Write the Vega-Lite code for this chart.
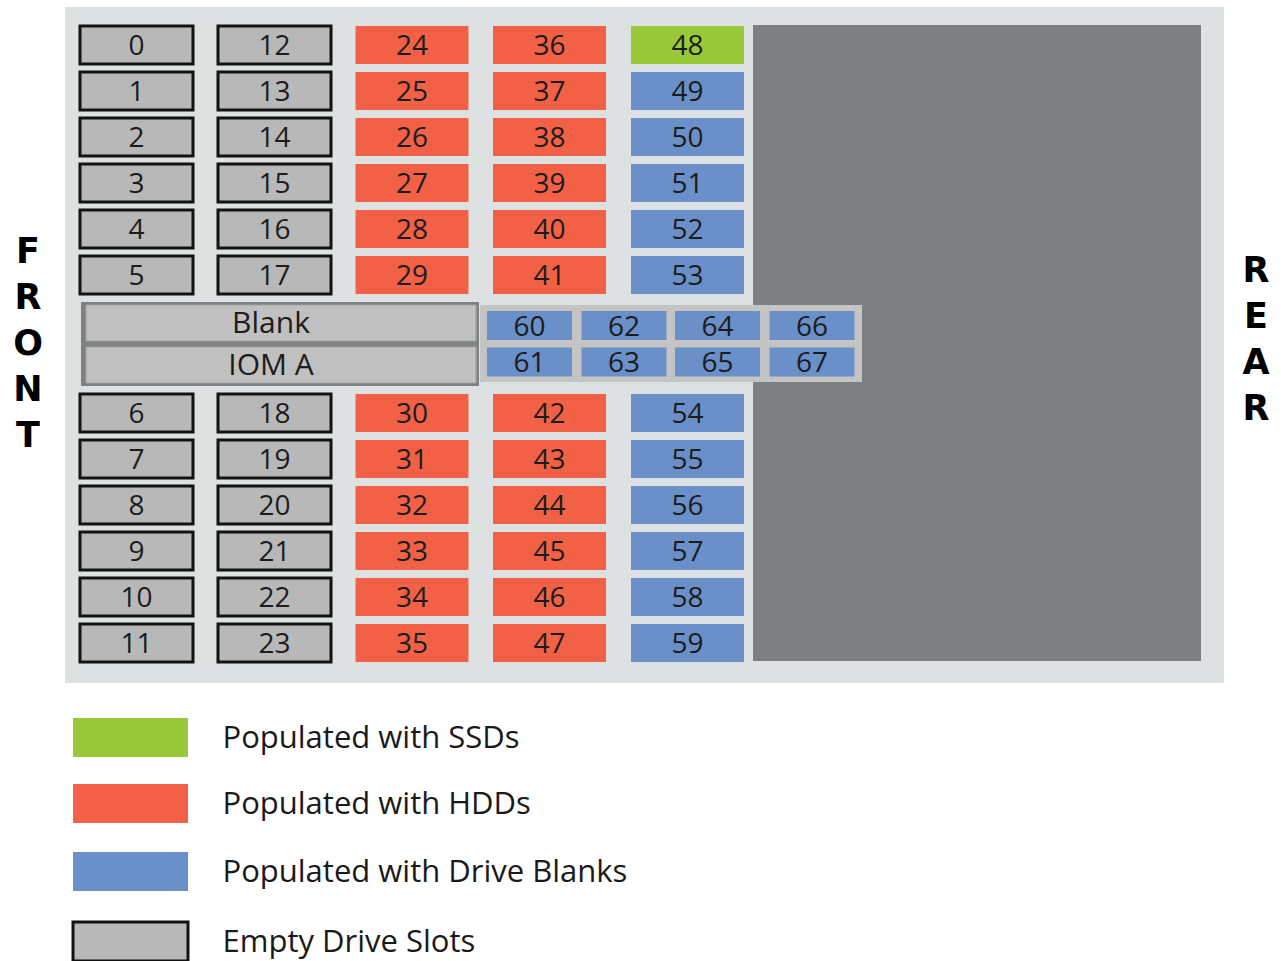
{
  "$schema": "https://vega.github.io/schema/vega-lite/v6.json",
  "width": 1281,
  "height": 961,
  "autosize": "none",
  "padding": 0,
  "background": "#ffffff",
  "config": {"view": {"stroke": null}},
  "datasets": {
    "panels": [
      {"part": "chassis", "x0": 65, "x1": 1224, "y0": 7, "y1": 683},
      {"part": "rear", "x0": 753, "x1": 1201, "y0": 25, "y1": 661},
      {"part": "iomframe", "x0": 81, "x1": 479, "y0": 302, "y1": 386},
      {"part": "midtray", "x0": 480, "x1": 862, "y0": 305, "y1": 382}
    ],
    "modules": [
      {"name": "Blank", "x": 281, "y": 323},
      {"name": "IOM A", "x": 281, "y": 365}
    ],
    "sides": [
      {"side": "FRONT", "letters": ["F", "R", "O", "N", "T"], "x": 28, "y": 252},
      {"side": "REAR", "letters": ["R", "E", "A", "R"], "x": 1256, "y": 271}
    ],
    "key": [
      {"kind": "Populated with SSDs", "x": 130.5, "y": 737.5},
      {"kind": "Populated with HDDs", "x": 130.5, "y": 803.5},
      {"kind": "Populated with Drive Blanks", "x": 130.5, "y": 871.5},
      {"kind": "Empty Drive Slots", "x": 130.5, "y": 941.5}
    ],
    "slots": [
      {"id": 0, "group": "bay", "kind": "Empty Drive Slots", "x": 136.5, "y": 45},
      {"id": 1, "group": "bay", "kind": "Empty Drive Slots", "x": 136.5, "y": 91},
      {"id": 2, "group": "bay", "kind": "Empty Drive Slots", "x": 136.5, "y": 137},
      {"id": 3, "group": "bay", "kind": "Empty Drive Slots", "x": 136.5, "y": 183},
      {"id": 4, "group": "bay", "kind": "Empty Drive Slots", "x": 136.5, "y": 229},
      {"id": 5, "group": "bay", "kind": "Empty Drive Slots", "x": 136.5, "y": 275},
      {"id": 6, "group": "bay", "kind": "Empty Drive Slots", "x": 136.5, "y": 413},
      {"id": 7, "group": "bay", "kind": "Empty Drive Slots", "x": 136.5, "y": 459},
      {"id": 8, "group": "bay", "kind": "Empty Drive Slots", "x": 136.5, "y": 505},
      {"id": 9, "group": "bay", "kind": "Empty Drive Slots", "x": 136.5, "y": 551},
      {"id": 10, "group": "bay", "kind": "Empty Drive Slots", "x": 136.5, "y": 597},
      {"id": 11, "group": "bay", "kind": "Empty Drive Slots", "x": 136.5, "y": 643},
      {"id": 12, "group": "bay", "kind": "Empty Drive Slots", "x": 274.5, "y": 45},
      {"id": 13, "group": "bay", "kind": "Empty Drive Slots", "x": 274.5, "y": 91},
      {"id": 14, "group": "bay", "kind": "Empty Drive Slots", "x": 274.5, "y": 137},
      {"id": 15, "group": "bay", "kind": "Empty Drive Slots", "x": 274.5, "y": 183},
      {"id": 16, "group": "bay", "kind": "Empty Drive Slots", "x": 274.5, "y": 229},
      {"id": 17, "group": "bay", "kind": "Empty Drive Slots", "x": 274.5, "y": 275},
      {"id": 18, "group": "bay", "kind": "Empty Drive Slots", "x": 274.5, "y": 413},
      {"id": 19, "group": "bay", "kind": "Empty Drive Slots", "x": 274.5, "y": 459},
      {"id": 20, "group": "bay", "kind": "Empty Drive Slots", "x": 274.5, "y": 505},
      {"id": 21, "group": "bay", "kind": "Empty Drive Slots", "x": 274.5, "y": 551},
      {"id": 22, "group": "bay", "kind": "Empty Drive Slots", "x": 274.5, "y": 597},
      {"id": 23, "group": "bay", "kind": "Empty Drive Slots", "x": 274.5, "y": 643},
      {"id": 24, "group": "bay", "kind": "Populated with HDDs", "x": 412, "y": 45},
      {"id": 25, "group": "bay", "kind": "Populated with HDDs", "x": 412, "y": 91},
      {"id": 26, "group": "bay", "kind": "Populated with HDDs", "x": 412, "y": 137},
      {"id": 27, "group": "bay", "kind": "Populated with HDDs", "x": 412, "y": 183},
      {"id": 28, "group": "bay", "kind": "Populated with HDDs", "x": 412, "y": 229},
      {"id": 29, "group": "bay", "kind": "Populated with HDDs", "x": 412, "y": 275},
      {"id": 30, "group": "bay", "kind": "Populated with HDDs", "x": 412, "y": 413},
      {"id": 31, "group": "bay", "kind": "Populated with HDDs", "x": 412, "y": 459},
      {"id": 32, "group": "bay", "kind": "Populated with HDDs", "x": 412, "y": 505},
      {"id": 33, "group": "bay", "kind": "Populated with HDDs", "x": 412, "y": 551},
      {"id": 34, "group": "bay", "kind": "Populated with HDDs", "x": 412, "y": 597},
      {"id": 35, "group": "bay", "kind": "Populated with HDDs", "x": 412, "y": 643},
      {"id": 36, "group": "bay", "kind": "Populated with HDDs", "x": 549.5, "y": 45},
      {"id": 37, "group": "bay", "kind": "Populated with HDDs", "x": 549.5, "y": 91},
      {"id": 38, "group": "bay", "kind": "Populated with HDDs", "x": 549.5, "y": 137},
      {"id": 39, "group": "bay", "kind": "Populated with HDDs", "x": 549.5, "y": 183},
      {"id": 40, "group": "bay", "kind": "Populated with HDDs", "x": 549.5, "y": 229},
      {"id": 41, "group": "bay", "kind": "Populated with HDDs", "x": 549.5, "y": 275},
      {"id": 42, "group": "bay", "kind": "Populated with HDDs", "x": 549.5, "y": 413},
      {"id": 43, "group": "bay", "kind": "Populated with HDDs", "x": 549.5, "y": 459},
      {"id": 44, "group": "bay", "kind": "Populated with HDDs", "x": 549.5, "y": 505},
      {"id": 45, "group": "bay", "kind": "Populated with HDDs", "x": 549.5, "y": 551},
      {"id": 46, "group": "bay", "kind": "Populated with HDDs", "x": 549.5, "y": 597},
      {"id": 47, "group": "bay", "kind": "Populated with HDDs", "x": 549.5, "y": 643},
      {"id": 48, "group": "bay", "kind": "Populated with SSDs", "x": 687.5, "y": 45},
      {"id": 49, "group": "bay", "kind": "Populated with Drive Blanks", "x": 687.5, "y": 91},
      {"id": 50, "group": "bay", "kind": "Populated with Drive Blanks", "x": 687.5, "y": 137},
      {"id": 51, "group": "bay", "kind": "Populated with Drive Blanks", "x": 687.5, "y": 183},
      {"id": 52, "group": "bay", "kind": "Populated with Drive Blanks", "x": 687.5, "y": 229},
      {"id": 53, "group": "bay", "kind": "Populated with Drive Blanks", "x": 687.5, "y": 275},
      {"id": 54, "group": "bay", "kind": "Populated with Drive Blanks", "x": 687.5, "y": 413},
      {"id": 55, "group": "bay", "kind": "Populated with Drive Blanks", "x": 687.5, "y": 459},
      {"id": 56, "group": "bay", "kind": "Populated with Drive Blanks", "x": 687.5, "y": 505},
      {"id": 57, "group": "bay", "kind": "Populated with Drive Blanks", "x": 687.5, "y": 551},
      {"id": 58, "group": "bay", "kind": "Populated with Drive Blanks", "x": 687.5, "y": 597},
      {"id": 59, "group": "bay", "kind": "Populated with Drive Blanks", "x": 687.5, "y": 643},
      {"id": 60, "group": "mid", "kind": "Populated with Drive Blanks", "x": 529.5, "y": 325.5},
      {"id": 61, "group": "mid", "kind": "Populated with Drive Blanks", "x": 529.5, "y": 362},
      {"id": 62, "group": "mid", "kind": "Populated with Drive Blanks", "x": 624, "y": 325.5},
      {"id": 63, "group": "mid", "kind": "Populated with Drive Blanks", "x": 624, "y": 362},
      {"id": 64, "group": "mid", "kind": "Populated with Drive Blanks", "x": 717.5, "y": 325.5},
      {"id": 65, "group": "mid", "kind": "Populated with Drive Blanks", "x": 717.5, "y": 362},
      {"id": 66, "group": "mid", "kind": "Populated with Drive Blanks", "x": 812, "y": 325.5},
      {"id": 67, "group": "mid", "kind": "Populated with Drive Blanks", "x": 812, "y": 362}
    ]
  },
  "encoding": {
    "x": {"type": "quantitative", "scale": {"domain": [0, 1281], "nice": false, "zero": false}, "axis": null},
    "y": {"type": "quantitative", "scale": {"domain": [0, 961], "reverse": true, "nice": false, "zero": false}, "axis": null}
  },
  "layer": [
    {
      "data": {"name": "panels"},
      "mark": {"type": "rect"},
      "encoding": {
        "x": {"field": "x0", "type": "quantitative"},
        "x2": {"field": "x1"},
        "y": {"field": "y0", "type": "quantitative"},
        "y2": {"field": "y1"},
        "fill": {"field": "part", "type": "nominal", "scale": {"domain": ["chassis", "rear", "iomframe", "midtray"], "range": ["#dde1e1", "#7c8080", "#7e8282", "#c4c4c4"]}, "legend": null}
      }
    },
    {
      "data": {"name": "modules"},
      "mark": {"type": "point", "shape": "M-1,-0.0923L1,-0.0923L1,0.0923L-1,0.0923Z", "size": 152100, "filled": true, "opacity": 1, "fill": "#c0c0c0", "stroke": "#a2a2a2", "strokeWidth": 1},
      "encoding": {
        "x": {"field": "x", "type": "quantitative"},
        "y": {"field": "y", "type": "quantitative"}
      }
    },
    {
      "data": {"name": "modules"},
      "mark": {"type": "text", "font": "Open Sans", "fontSize": 30, "color": "#1c1c1c", "align": "center", "baseline": "middle", "dx": -10, "dy": 1},
      "encoding": {
        "x": {"field": "x", "type": "quantitative"},
        "y": {"field": "y", "type": "quantitative"},
        "text": {"field": "name", "type": "nominal"}
      }
    },
    {
      "data": {"name": "slots"},
      "transform": [{"filter": "datum.group === 'bay'"}],
      "mark": {"type": "point", "shape": "M-1,-0.3363L1,-0.3363L1,0.3363L-1,0.3363Z", "size": 12769, "filled": true, "opacity": 1, "strokeWidth": 3},
      "encoding": {
        "x": {"field": "x", "type": "quantitative"},
        "y": {"field": "y", "type": "quantitative"},
        "color": {
          "field": "kind", "type": "nominal",
          "scale": {"domain": ["Populated with SSDs", "Populated with HDDs", "Populated with Drive Blanks", "Empty Drive Slots"], "range": ["#99c93b", "#f26046", "#6a8fc9", "#b8b8b8"]},
          "legend": null
        },
        "stroke": {
          "field": "kind", "type": "nominal",
          "scale": {"domain": ["Populated with SSDs", "Populated with HDDs", "Populated with Drive Blanks", "Empty Drive Slots"], "range": ["rgba(0,0,0,0)", "rgba(0,0,0,0)", "rgba(0,0,0,0)", "#121212"]},
          "legend": null
        }
      }
    },
    {
      "data": {"name": "slots"},
      "transform": [{"filter": "datum.group === 'mid'"}],
      "mark": {"type": "point", "shape": "M-1,-0.3412L1,-0.3412L1,0.3412L-1,0.3412Z", "size": 7225, "filled": true, "opacity": 1, "strokeWidth": 3},
      "encoding": {
        "x": {"field": "x", "type": "quantitative"},
        "y": {"field": "y", "type": "quantitative"},
        "color": {"field": "kind", "type": "nominal", "legend": null},
        "stroke": {"field": "kind", "type": "nominal", "legend": null}
      }
    },
    {
      "data": {"name": "slots"},
      "mark": {"type": "text", "font": "Open Sans", "fontSize": 28, "color": "#1c1c1c", "align": "center", "baseline": "middle", "dy": 2},
      "encoding": {
        "x": {"field": "x", "type": "quantitative"},
        "y": {"field": "y", "type": "quantitative"},
        "text": {"field": "id", "type": "nominal"}
      }
    },
    {
      "data": {"name": "key"},
      "mark": {"type": "point", "shape": "M-1,-0.339L1,-0.339L1,0.339L-1,0.339Z", "size": 13225, "filled": true, "opacity": 1, "strokeWidth": 3},
      "encoding": {
        "x": {"field": "x", "type": "quantitative"},
        "y": {"field": "y", "type": "quantitative"},
        "color": {"field": "kind", "type": "nominal", "legend": null},
        "stroke": {"field": "kind", "type": "nominal", "legend": null}
      }
    },
    {
      "data": {"name": "key"},
      "mark": {"type": "text", "font": "Open Sans", "fontSize": 31, "color": "#1a1a1a", "align": "left", "baseline": "middle", "dx": 92, "dy": 1},
      "encoding": {
        "x": {"field": "x", "type": "quantitative"},
        "y": {"field": "y", "type": "quantitative"},
        "text": {"field": "kind", "type": "nominal"}
      }
    },
    {
      "data": {"name": "sides"},
      "mark": {"type": "text", "font": "DejaVu Sans", "fontWeight": "bold", "fontSize": 35, "color": "#000000", "align": "center", "baseline": "middle", "lineHeight": 46},
      "encoding": {
        "x": {"field": "x", "type": "quantitative"},
        "y": {"field": "y", "type": "quantitative"},
        "text": {"field": "letters", "type": "nominal"}
      }
    }
  ]
}
